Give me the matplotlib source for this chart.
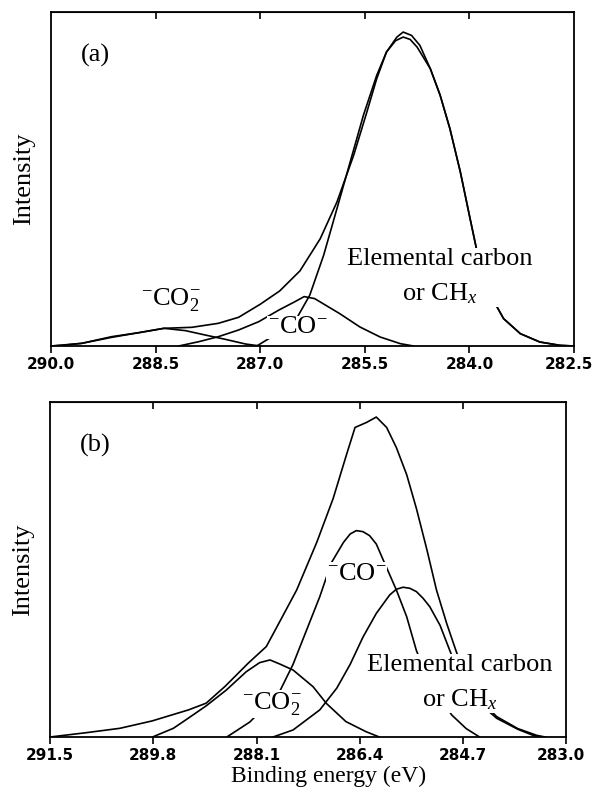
import matplotlib
matplotlib.use("Agg")
from matplotlib import pyplot as plt
from matplotlib.transforms import ScaledTranslation

plt.rcParams["mathtext.fontset"] = "custom"
plt.rcParams["mathtext.rm"] = "Liberation Serif"
plt.rcParams["mathtext.it"] = "Liberation Serif:italic"

# C 1s spectrum (a): binding energy (eV) and intensity (% of full scale)
be_a_total = [290.00, 289.56, 289.13, 288.74, 288.38, 287.98, 287.60, 287.31, 287.00, 286.72,
              286.43, 286.14, 285.90, 285.66, 285.47, 285.33, 285.19, 285.04, 284.95, 284.83,
              284.71, 284.56, 284.42, 284.28, 284.13, 283.99, 283.85, 283.70, 283.51, 283.27,
              282.99, 282.70, 282.50]
int_a_total = [0.0, 0.8, 2.8, 4.0, 5.3, 5.6, 6.8, 8.6, 12.5, 16.5,
               22.5, 32.1, 43.1, 57.1, 70.1, 80.0, 88.0, 92.5, 94.0, 93.0,
               90.0, 83.0, 75.1, 65.1, 52.1, 38.1, 24.3, 15.3, 8.2, 3.7,
               1.2, 0.2, 0.0]

be_a_c = [287.05, 286.72, 286.48, 286.29, 286.09, 285.90, 285.71, 285.52, 285.33, 285.19,
          285.06, 284.95, 284.85, 284.75, 284.56, 284.42, 284.28, 284.13, 283.99, 283.85,
          283.70, 283.51, 283.27, 282.99, 282.70, 282.50]
int_a_c = [0.0, 4.2, 8.2, 15.2, 27.2, 41.1, 55.1, 69.1, 81.0, 88.0,
           91.4, 92.5, 91.8, 89.5, 83.0, 75.1, 65.1, 52.1, 38.1, 24.3,
           15.3, 8.2, 3.7, 1.2, 0.2, 0.0]

be_a_co = [288.17, 287.88, 287.60, 287.31, 287.02, 286.73, 286.50, 286.37, 286.22, 286.14,
           285.86, 285.57, 285.28, 284.99, 284.80]
int_a_co = [0.0, 1.3, 2.8, 4.8, 7.3, 10.8, 13.3, 14.8, 14.2, 13.2,
            9.7, 5.7, 2.7, 0.7, 0.0]

be_a_co2 = [290.00, 289.84, 289.56, 289.13, 288.74, 288.38, 288.07, 287.79, 287.50, 287.21, 287.00]
int_a_co2 = [0.0, 0.2, 0.8, 2.6, 4.0, 5.3, 4.6, 3.3, 2.0, 0.6, 0.0]

# C 1s spectrum (b)
be_b_total = [291.50, 290.90, 290.35, 289.82, 289.22, 288.93, 288.62, 288.24, 287.94, 287.75,
              287.44, 287.11, 286.84, 286.62, 286.48, 286.29, 286.13, 285.96, 285.80, 285.63,
              285.47, 285.30, 285.14, 284.97, 284.81, 284.56, 284.15, 283.80, 283.49, 283.35]
int_b_total = [0.0, 1.3, 2.6, 4.8, 8.1, 10.1, 15.1, 22.0, 27.0, 33.4,
               43.9, 58.1, 71.2, 84.3, 92.4, 93.9, 95.5, 92.4, 86.4, 78.3,
               68.2, 56.1, 43.9, 33.8, 25.3, 13.6, 6.1, 2.5, 0.5, 0.0]

be_b_c = [287.83, 287.50, 287.06, 286.78, 286.56, 286.35, 286.13, 285.91, 285.80, 285.69,
          285.58, 285.47, 285.36, 285.25, 285.08, 284.92, 284.65, 284.15, 283.80, 283.55,
          283.44]
int_b_c = [0.0, 2.1, 8.1, 14.6, 21.7, 29.8, 36.9, 42.4, 44.1, 44.7,
           44.4, 43.4, 41.4, 38.9, 33.3, 25.8, 13.6, 5.6, 2.3, 0.5,
           0.0]

be_b_co = [288.59, 288.21, 287.72, 287.50, 287.28, 287.06, 286.87, 286.67, 286.56, 286.46,
           286.35, 286.24, 286.13, 286.02, 285.80, 285.63, 285.47, 285.30, 285.14, 284.89,
           284.65, 284.43]
int_b_co = [0.0, 4.5, 13.6, 21.7, 31.8, 41.9, 52.0, 58.1, 60.6, 61.6,
            61.3, 60.1, 57.6, 53.0, 43.9, 35.9, 25.8, 18.2, 13.6, 6.6,
            2.5, 0.0]

be_b_co2 = [289.80, 289.47, 289.25, 288.93, 288.60, 288.27, 288.05, 287.88, 287.72, 287.50,
            287.17, 286.95, 286.63, 286.30, 286.08]
int_b_co2 = [0.1, 2.6, 5.3, 9.3, 14.0, 19.5, 22.2, 23.0, 21.8, 20.0,
             15.0, 10.0, 4.6, 1.6, 0.0]

ticks_a = [290.0, 288.5, 287.0, 285.5, 284.0, 282.5]
ticks_b = [291.5, 289.8, 288.1, 286.4, 284.7, 283.0]

SERIF = "Liberation Serif"
LW = 1.2
box = dict(facecolor="white", edgecolor="none", pad=0.5)


def mise_en_forme(ax, ticks, tag):
    """Cadre, graduations et titre de panneau communs aux deux spectres"""
    ax.set_xlim(ticks[0], ticks[-1])
    ax.set_ylim(0, 100)
    ax.set_xticks(ticks)
    ax.set_xticklabels(["%.1f" % t for t in ticks], fontsize=11, fontweight="bold",
                       fontfamily="DejaVu Sans")
    ax.tick_params(axis="x", which="both", direction="out", length=5, width=1.2, pad=3,
                   top=False)
    ax.set_yticks([])
    sec = ax.secondary_xaxis("top")
    sec.set_xticks(ticks[1:-1])
    sec.tick_params(direction="in", length=5, width=1.2, labeltop=False)
    for s in ax.spines.values():
        s.set_linewidth(1.3)
    ax.set_ylabel("Intensity", fontsize=19, fontfamily=SERIF)
    ax.yaxis.set_label_coords(-0.03, 0.5)
    ax.text(0.058, 0.87, tag, transform=ax.transAxes, fontsize=19, fontfamily=SERIF,
            ha="left", va="center")
    # le dernier libellé touche le bord droit de la figure
    dernier = ax.get_xticklabels()[-1]
    dernier.set_transform(dernier.get_transform() + ScaledTranslation(-4 / 72, 0, ax.figure.dpi_scale_trans))


fig = plt.figure(figsize=(5.96, 7.96), dpi=100)
ax_a = fig.add_axes([0.0856, 0.5653, 0.8775, 0.4196])
ax_b = fig.add_axes([0.0839, 0.0741, 0.8666, 0.4209])

for be, it in [(be_a_total, int_a_total), (be_a_c, int_a_c), (be_a_co, int_a_co), (be_a_co2, int_a_co2)]:
    ax_a.plot(be, it, color="black", lw=LW)
mise_en_forme(ax_a, ticks_a, "(a)")
ax_a.text(288.28, 14.0, r"$^{-}$CO$_{2}^{-}$", fontsize=19, fontfamily=SERIF, ha="center", va="center")
ax_a.text(286.46, 5.6, r"$^{-}$CO$^{-}$", fontsize=19, fontfamily=SERIF, ha="center", va="center", bbox=box)
ax_a.text(284.42, 20.6, "Elemental carbon\n" + r"or CH$_{x}$", fontsize=19, fontfamily=SERIF,
          ha="center", va="center", linespacing=1.6, bbox=box)

for be, it in [(be_b_total, int_b_total), (be_b_c, int_b_c), (be_b_co, int_b_co), (be_b_co2, int_b_co2)]:
    ax_b.plot(be, it, color="black", lw=LW)
mise_en_forme(ax_b, ticks_b, "(b)")
ax_b.text(286.45, 48.7, r"$^{-}$CO$^{-}$", fontsize=19, fontfamily=SERIF, ha="center", va="center", bbox=box)
ax_b.text(287.85, 9.9, r"$^{-}$CO$_{2}^{-}$", fontsize=19, fontfamily=SERIF, ha="center", va="center", bbox=box)
ax_b.text(284.75, 16.2, "Elemental carbon\n" + r"or CH$_{x}$", fontsize=19, fontfamily=SERIF,
          ha="center", va="center", linespacing=1.6, bbox=box)
ax_b.set_xlabel("Binding energy (eV)", fontsize=17, fontfamily=SERIF)
ax_b.xaxis.set_label_coords(0.54, -0.085)

fig.savefig("out.png", dpi=100)
